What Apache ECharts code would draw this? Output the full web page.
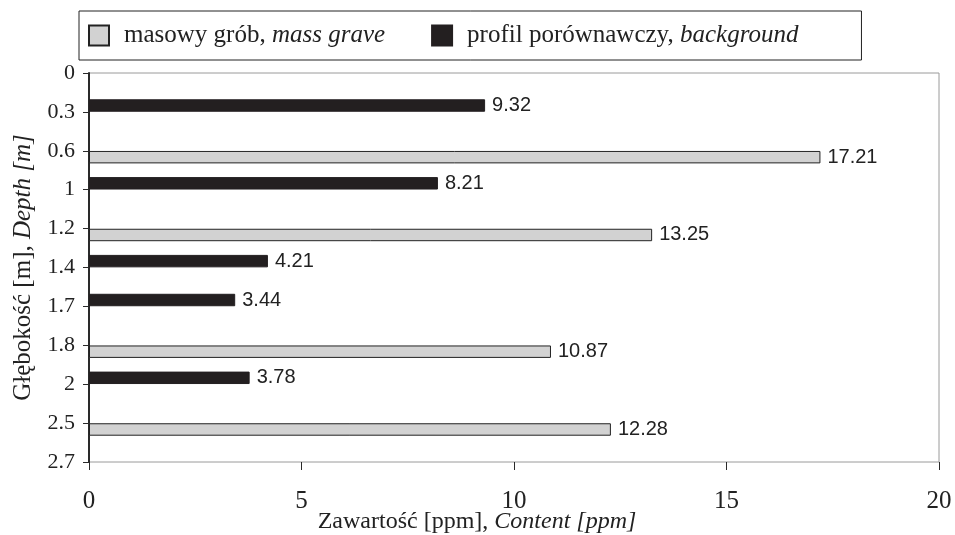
<!DOCTYPE html>
<html>
<head>
<meta charset="utf-8">
<script src="https://cdn.jsdelivr.net/npm/echarts@6/dist/echarts.min.js"></script>
<style>
  html, body { margin: 0; padding: 0; background: #fff; }
</style>
</head>
<body>
<div id="chart" style="width:955px; height:535px; background-color: white;"></div>
<script>
// depth labels sit on the band boundaries
const depthTicks = ['0', '0.3', '0.6', '1', '1.2', '1.4', '1.7', '1.8', '2', '2.5', '2.7'];
// one band between each pair of boundaries
const bands = ['0-0.3', '0.3-0.6', '0.6-1', '1-1.2', '1.2-1.4', '1.4-1.7', '1.7-1.8', '1.8-2', '2-2.5', '2.5-2.7'];
const massGrave = ['-', '-', 17.21, '-', 13.25, '-', '-', 10.87, '-', 12.28];
const background = [9.32, '-', 8.21, '-', 4.21, 3.44, '-', 3.78, '-', '-'];
const xTicks = [0, 5, 10, 15, 20];

const serif = '"Liberation Serif", "DejaVu Serif", serif';
const sans = '"Liberation Sans", Arial, sans-serif';

const chart = echarts.init(document.getElementById('chart'), null, {renderer: 'canvas'});

chart.setOption({
  animation: false,
  grid: {
    left: 89, right: 16, top: 73, bottom: 73,
    show: true, borderColor: '#9a9a9a', borderWidth: 1,
    containLabel: false,
    outerBoundsMode: 'none'
  },
  legend: {
    left: 79, top: 11,
    padding: [12, 63, 12, 9],
    borderColor: '#222', borderWidth: 1,
    itemWidth: 20, itemHeight: 20, itemGap: 46,
    icon: 'rect',
    data: ['mass', 'bg'],
    formatter: function (name) {
      if (name === 'mass') return '{n|masowy grób, }{i|mass grave}';
      return '{n|profil porównawczy, }{i|background}';
    },
    textStyle: {
      padding: [0, 0, 0, 10],
      rich: {
        n: {fontFamily: serif, fontSize: 25, color: '#222'},
        i: {fontFamily: serif, fontSize: 25, fontStyle: 'italic', color: '#222'}
      }
    }
  },
  xAxis: {
    type: 'value',
    min: xTicks[0], max: xTicks[xTicks.length - 1], interval: 5,
    axisLine: {lineStyle: {color: '#2a2a2a', width: 2}},
    axisTick: {show: true, length: 8, lineStyle: {color: '#2a2a2a', width: 1}},
    splitLine: {show: false},
    axisLabel: {margin: 27, fontFamily: serif, fontSize: 25, color: '#222'},
    name: '{n|Zawartość [ppm], }{i|Content [ppm]}',
    nameLocation: 'middle',
    nameGap: 48,
    nameMoveOverlap: false,
    nameTextStyle: {
      padding: [0, 74, 0, 0],
      rich: {
        n: {fontFamily: serif, fontSize: 24, color: '#222'},
        i: {fontFamily: serif, fontSize: 24, fontStyle: 'italic', color: '#222'}
      }
    }
  },
  yAxis: [
    {
      type: 'category',
      data: bands,
      inverse: true,
      position: 'left',
      axisLine: {lineStyle: {color: '#2a2a2a', width: 2}},
      axisTick: {show: true, length: 6, lineStyle: {color: '#2a2a2a', width: 1}},
      axisLabel: {show: false}
    },
    {
      type: 'category',
      data: depthTicks,
      inverse: true,
      boundaryGap: false,
      position: 'left',
      offset: 0,
      axisLine: {show: false},
      axisTick: {show: false},
      axisLabel: {margin: 14, fontFamily: serif, fontSize: 22, color: '#222'},
      name: '{n|Głębokość [m], }{i|Depth [m]}',
      nameLocation: 'middle',
      nameRotate: 90,
      nameGap: 53,
      nameMoveOverlap: false,
      nameTextStyle: {
        rich: {
          n: {fontFamily: serif, fontSize: 25, color: '#222'},
          i: {fontFamily: serif, fontSize: 25, fontStyle: 'italic', color: '#222'}
        }
      }
    }
  ],
  series: [
    {
      name: 'mass',
      type: 'bar',
      yAxisIndex: 0,
      data: massGrave,
      barWidth: '32%',
      barGap: '110%',
      itemStyle: {color: '#d2d2d2', borderColor: '#222', borderWidth: 1},
      label: {show: true, position: 'right', distance: 7, fontFamily: sans, fontSize: 20, color: '#222'}
    },
    {
      name: 'bg',
      type: 'bar',
      yAxisIndex: 0,
      data: background,
      barWidth: '32%',
      barGap: '110%',
      itemStyle: {color: '#231f20', borderColor: '#231f20', borderWidth: 1},
      label: {show: true, position: 'right', distance: 7, fontFamily: sans, fontSize: 20, color: '#222'}
    }
  ]
});
</script>
</body>
</html>
